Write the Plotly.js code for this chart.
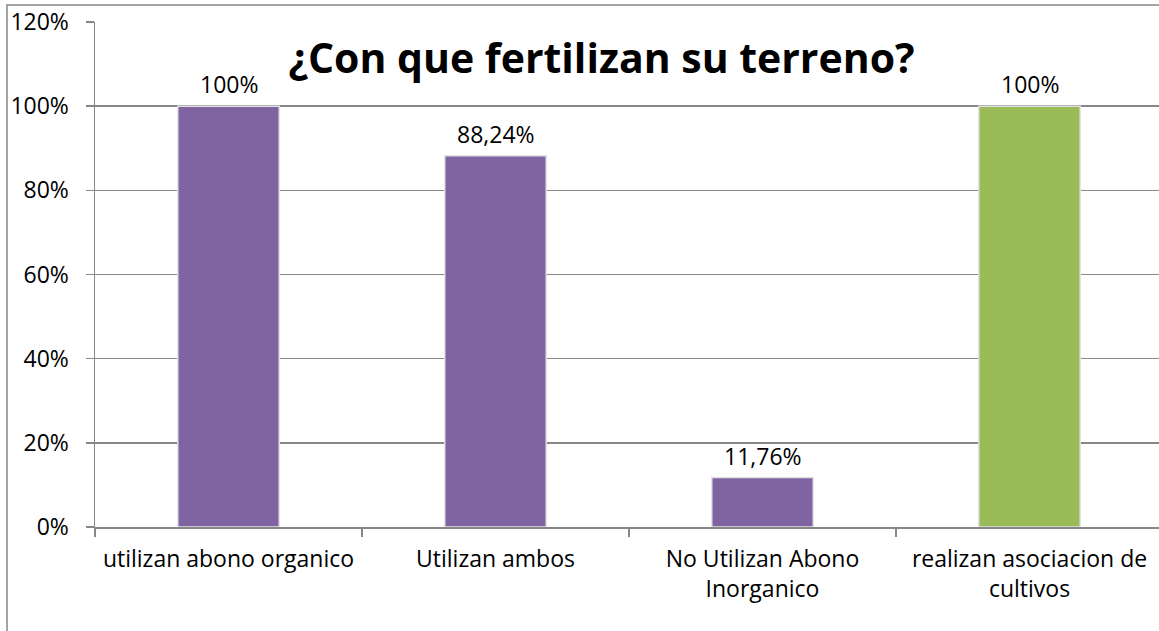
<!DOCTYPE html>
<html><head><meta charset="utf-8">
<script src="https://cdn.plot.ly/plotly-3.0.1.min.js"></script>
<style>html,body{margin:0;padding:0;background:#fff;}#chart{width:1159px;height:631px;}</style>
</head><body><div id="chart"></div>
<script>
const categories = ["utilizan abono organico", "Utilizan ambos", "No Utilizan Abono<br>Inorganico", "realizan asociacion de<br>cultivos"];
const values = [1.00, 0.8824, 0.1176, 1.00];
const valueLabels = ["100%", "88,24%", "11,76%", "100%"];
const yTickVals = [0, 0.2, 0.4, 0.6, 0.8, 1.0, 1.2];
const yTickText = ["0%", "20%", "40%", "60%", "80%", "100%", "120%"];
const titleText = "¿Con que fertilizan su terreno?";

const barColors = ["#8064A2", "#8064A2", "#8064A2", "#9BBB59"];
const FONT = "'Open Sans', sans-serif";
const gridColor = "#878787";
const FS = 23;

const trace = {
  type: "bar",
  x: categories,
  y: values,
  marker: {color: barColors, line: {color: "#e2e2e2", width: 1.5}},
  width: 0.38,
  hoverinfo: "skip"
};

const labelAnnotations = categories.map((c, i) => ({
  x: c, y: values[i], xref: "x", yref: "y",
  text: valueLabels[i], showarrow: false,
  yanchor: "bottom", yshift: 4,
  font: {family: FONT, size: FS, color: "#000"}
}));

const plotLeft = 95, plotW = 1064, catW = 267;
const layout = {
  width: 1159, height: 631,
  margin: {l: plotLeft, r: 0, t: 22, b: 104, pad: 0},
  paper_bgcolor: "#fff", plot_bgcolor: "#fff",
  showlegend: false,
  font: {family: FONT, size: FS, color: "#000"},
  title: {
    text: "<b>" + titleText + "</b>",
    font: {family: FONT, size: 41, color: "#000"},
    xref: "container", x: 0.519, xanchor: "center",
    yref: "container", y: 1 - 59/631, yanchor: "middle"
  },
  xaxis: {
    type: "category",
    range: [-0.5, -0.5 + plotW / catW],
    showgrid: false,
    showline: true, linecolor: gridColor, linewidth: 1.5,
    ticks: "outside", tickson: "boundaries", ticklen: 8, tickcolor: gridColor, tickwidth: 1.5,
    ticklabelstandoff: 11,
    tickfont: {family: FONT, size: FS, color: "#000"},
    fixedrange: true
  },
  yaxis: {
    range: [0, 1.2],
    tickvals: yTickVals, ticktext: yTickText,
    showgrid: true, gridcolor: gridColor, gridwidth: 1.5,
    showline: true, linecolor: gridColor, linewidth: 1.5,
    ticks: "outside", ticklen: 8, tickcolor: gridColor, tickwidth: 1.5,
    ticklabelstandoff: 12,
    tickfont: {family: FONT, size: FS, color: "#000"},
    zeroline: false,
    fixedrange: true
  },
  annotations: labelAnnotations,
  shapes: [{
    type: "rect", xref: "paper", yref: "paper",
    x0: (7 - plotLeft) / plotW, x1: 1.05,
    y0: -0.4, y1: (527 - 5) / 505,
    line: {color: gridColor, width: 1.5}, fillcolor: "rgba(0,0,0,0)", layer: "below"
  }]
};

Plotly.newPlot("chart", [trace], layout, {displayModeBar: false, staticPlot: true});
</script></body></html>
